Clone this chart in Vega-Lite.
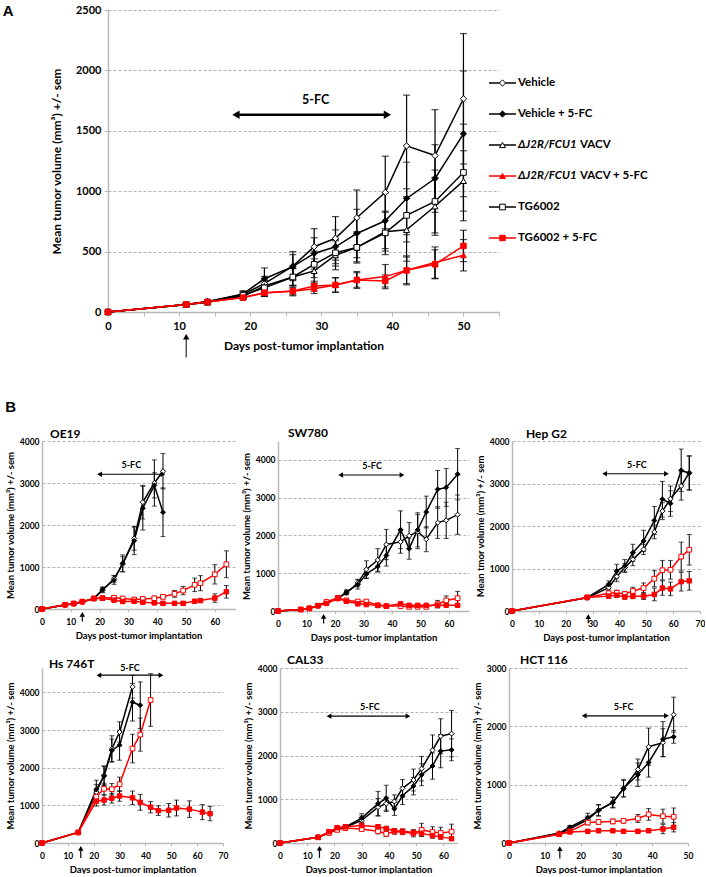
{
"$schema": "https://vega.github.io/schema/vega-lite/v6.json",
"padding": {"left": 2, "top": 3, "right": 0, "bottom": 0},
"background": "white",
"config": {
 "font": "Lato",
 "numberFormat": "d",
 "view": {"stroke": null},
 "axis": {"labelFontWeight": "bold", "titleFontWeight": "bold", "labelColor": "black", "titleColor": "black", "domainColor": "#b8b8b8", "domainWidth": 1.5, "tickColor": "#b8b8b8", "gridColor": "#a0a0a0", "gridDash": [3, 2], "gridWidth": 0.8, "labelFontSize": 8.5, "titleFontSize": 9.5, "labelFlush": false, "labelOverlap": false},
 "axisX": {"grid": false, "tickSize": 3, "labelPadding": 5, "titlePadding": 5, "labelOverlap": false},
 "axisY": {"grid": true, "ticks": false, "labelPadding": 3, "titlePadding": 4},
 "title": {"fontWeight": "bold", "color": "black"}
},
"resolve": {"scale": {"color": "independent", "fill": "independent", "stroke": "independent", "shape": "independent", "size": "independent"}},
"datasets": {
 "a": [
  {"g":"V","d":0,"m":0,"s":0},{"g":"V","d":11,"m":62,"s":8},{"g":"V","d":14,"m":88,"s":15},{"g":"V","d":19,"m":145,"s":25},{"g":"V","d":22,"m":235,"s":60},{"g":"V","d":26,"m":380,"s":120},{"g":"V","d":29,"m":540,"s":150},{"g":"V","d":32,"m":610,"s":180},{"g":"V","d":35,"m":780,"s":230},{"g":"V","d":39,"m":990,"s":300},{"g":"V","d":42,"m":1375,"s":420},{"g":"V","d":46,"m":1295,"s":380},{"g":"V","d":50,"m":1765,"s":540},
  {"g":"VF","d":0,"m":0,"s":0},{"g":"VF","d":11,"m":62,"s":8},{"g":"VF","d":14,"m":85,"s":15},{"g":"VF","d":19,"m":150,"s":25},{"g":"VF","d":22,"m":275,"s":90},{"g":"VF","d":26,"m":375,"s":100},{"g":"VF","d":29,"m":485,"s":130},{"g":"VF","d":32,"m":540,"s":140},{"g":"VF","d":35,"m":650,"s":200},{"g":"VF","d":39,"m":755,"s":230},{"g":"VF","d":42,"m":940,"s":300},{"g":"VF","d":46,"m":1105,"s":280},{"g":"VF","d":50,"m":1475,"s":520},
  {"g":"J","d":0,"m":0,"s":0},{"g":"J","d":11,"m":60,"s":8},{"g":"J","d":14,"m":80,"s":12},{"g":"J","d":19,"m":130,"s":20},{"g":"J","d":22,"m":215,"s":50},{"g":"J","d":26,"m":290,"s":70},{"g":"J","d":29,"m":340,"s":100},{"g":"J","d":32,"m":470,"s":120},{"g":"J","d":35,"m":535,"s":130},{"g":"J","d":39,"m":665,"s":160},{"g":"J","d":42,"m":680,"s":260},{"g":"J","d":46,"m":875,"s":240},{"g":"J","d":50,"m":1085,"s":250},
  {"g":"T","d":0,"m":0,"s":0},{"g":"T","d":11,"m":62,"s":8},{"g":"T","d":14,"m":82,"s":12},{"g":"T","d":19,"m":140,"s":20},{"g":"T","d":22,"m":200,"s":60},{"g":"T","d":26,"m":290,"s":70},{"g":"T","d":29,"m":395,"s":110},{"g":"T","d":32,"m":490,"s":110},{"g":"T","d":35,"m":535,"s":120},{"g":"T","d":39,"m":655,"s":180},{"g":"T","d":42,"m":800,"s":220},{"g":"T","d":46,"m":915,"s":260},{"g":"T","d":50,"m":1155,"s":400},
  {"g":"JF","d":0,"m":0,"s":0},{"g":"JF","d":11,"m":63,"s":8},{"g":"JF","d":14,"m":85,"s":12},{"g":"JF","d":19,"m":120,"s":15},{"g":"JF","d":22,"m":158,"s":30},{"g":"JF","d":26,"m":172,"s":30},{"g":"JF","d":29,"m":193,"s":40},{"g":"JF","d":32,"m":224,"s":60},{"g":"JF","d":35,"m":265,"s":70},{"g":"JF","d":39,"m":293,"s":100},{"g":"JF","d":42,"m":345,"s":120},{"g":"JF","d":46,"m":409,"s":130},{"g":"JF","d":50,"m":470,"s":130},
  {"g":"TF","d":0,"m":0,"s":0},{"g":"TF","d":11,"m":63,"s":8},{"g":"TF","d":14,"m":83,"s":12},{"g":"TF","d":19,"m":119,"s":15},{"g":"TF","d":22,"m":160,"s":30},{"g":"TF","d":26,"m":174,"s":40},{"g":"TF","d":29,"m":215,"s":40},{"g":"TF","d":32,"m":224,"s":60},{"g":"TF","d":35,"m":265,"s":60},{"g":"TF","d":39,"m":257,"s":50},{"g":"TF","d":42,"m":345,"s":110},{"g":"TF","d":46,"m":395,"s":120},{"g":"TF","d":50,"m":547,"s":130}
 ],
 "b": [
  {"p":"OE19","g":"V","d":0,"m":0,"s":0},{"p":"OE19","g":"V","d":8,"m":95,"s":10},{"p":"OE19","g":"V","d":11,"m":125,"s":15},{"p":"OE19","g":"V","d":14,"m":170,"s":20},{"p":"OE19","g":"V","d":18,"m":250,"s":30},{"p":"OE19","g":"V","d":21,"m":448,"s":60},{"p":"OE19","g":"V","d":25,"m":720,"s":80},{"p":"OE19","g":"V","d":28,"m":1064,"s":180},{"p":"OE19","g":"V","d":32,"m":1680,"s":280},{"p":"OE19","g":"V","d":35,"m":2544,"s":400},{"p":"OE19","g":"V","d":39,"m":3000,"s":550},{"p":"OE19","g":"V","d":42,"m":3280,"s":420},
  {"p":"OE19","g":"VF","d":0,"m":0,"s":0},{"p":"OE19","g":"VF","d":8,"m":95,"s":10},{"p":"OE19","g":"VF","d":11,"m":125,"s":15},{"p":"OE19","g":"VF","d":14,"m":170,"s":20},{"p":"OE19","g":"VF","d":18,"m":250,"s":30},{"p":"OE19","g":"VF","d":21,"m":464,"s":60},{"p":"OE19","g":"VF","d":25,"m":688,"s":100},{"p":"OE19","g":"VF","d":28,"m":1088,"s":200},{"p":"OE19","g":"VF","d":32,"m":1624,"s":330},{"p":"OE19","g":"VF","d":35,"m":2400,"s":520},{"p":"OE19","g":"VF","d":39,"m":2944,"s":300},{"p":"OE19","g":"VF","d":42,"m":2304,"s":580},
  {"p":"OE19","g":"T","d":0,"m":0,"s":0},{"p":"OE19","g":"T","d":8,"m":100,"s":10},{"p":"OE19","g":"T","d":11,"m":130,"s":15},{"p":"OE19","g":"T","d":14,"m":175,"s":20},{"p":"OE19","g":"T","d":18,"m":250,"s":30},{"p":"OE19","g":"T","d":21,"m":260,"s":30},{"p":"OE19","g":"T","d":25,"m":265,"s":40},{"p":"OE19","g":"T","d":28,"m":250,"s":40},{"p":"OE19","g":"T","d":32,"m":225,"s":40},{"p":"OE19","g":"T","d":35,"m":240,"s":40},{"p":"OE19","g":"T","d":39,"m":255,"s":50},{"p":"OE19","g":"T","d":42,"m":290,"s":50},{"p":"OE19","g":"T","d":46,"m":360,"s":80},{"p":"OE19","g":"T","d":49,"m":440,"s":100},{"p":"OE19","g":"T","d":53,"m":575,"s":160},{"p":"OE19","g":"T","d":55,"m":615,"s":180},{"p":"OE19","g":"T","d":60,"m":825,"s":230},{"p":"OE19","g":"T","d":64,"m":1065,"s":320},
  {"p":"OE19","g":"TF","d":0,"m":0,"s":0},{"p":"OE19","g":"TF","d":8,"m":100,"s":10},{"p":"OE19","g":"TF","d":11,"m":130,"s":15},{"p":"OE19","g":"TF","d":14,"m":175,"s":20},{"p":"OE19","g":"TF","d":18,"m":250,"s":30},{"p":"OE19","g":"TF","d":21,"m":255,"s":30},{"p":"OE19","g":"TF","d":25,"m":210,"s":30},{"p":"OE19","g":"TF","d":28,"m":180,"s":30},{"p":"OE19","g":"TF","d":32,"m":185,"s":30},{"p":"OE19","g":"TF","d":35,"m":160,"s":30},{"p":"OE19","g":"TF","d":39,"m":145,"s":30},{"p":"OE19","g":"TF","d":42,"m":135,"s":30},{"p":"OE19","g":"TF","d":46,"m":135,"s":30},{"p":"OE19","g":"TF","d":49,"m":135,"s":30},{"p":"OE19","g":"TF","d":53,"m":185,"s":40},{"p":"OE19","g":"TF","d":55,"m":200,"s":40},{"p":"OE19","g":"TF","d":60,"m":260,"s":100},{"p":"OE19","g":"TF","d":64,"m":410,"s":150},

  {"p":"SW780","g":"V","d":0,"m":0,"s":0},{"p":"SW780","g":"V","d":8,"m":40,"s":5},{"p":"SW780","g":"V","d":11,"m":70,"s":10},{"p":"SW780","g":"V","d":14,"m":140,"s":15},{"p":"SW780","g":"V","d":17,"m":230,"s":25},{"p":"SW780","g":"V","d":21,"m":340,"s":40},{"p":"SW780","g":"V","d":24,"m":480,"s":50},{"p":"SW780","g":"V","d":28,"m":740,"s":100},{"p":"SW780","g":"V","d":31,"m":1100,"s":230},{"p":"SW780","g":"V","d":35,"m":1350,"s":300},{"p":"SW780","g":"V","d":38,"m":1760,"s":400},{"p":"SW780","g":"V","d":43,"m":1830,"s":300},{"p":"SW780","g":"V","d":46,"m":1990,"s":350},{"p":"SW780","g":"V","d":49,"m":2100,"s":450},{"p":"SW780","g":"V","d":52,"m":1900,"s":330},{"p":"SW780","g":"V","d":56,"m":2340,"s":420},{"p":"SW780","g":"V","d":59,"m":2400,"s":480},{"p":"SW780","g":"V","d":63,"m":2550,"s":520},
  {"p":"SW780","g":"VF","d":0,"m":0,"s":0},{"p":"SW780","g":"VF","d":8,"m":40,"s":5},{"p":"SW780","g":"VF","d":11,"m":70,"s":10},{"p":"SW780","g":"VF","d":14,"m":140,"s":15},{"p":"SW780","g":"VF","d":17,"m":230,"s":25},{"p":"SW780","g":"VF","d":21,"m":330,"s":40},{"p":"SW780","g":"VF","d":24,"m":500,"s":60},{"p":"SW780","g":"VF","d":28,"m":700,"s":120},{"p":"SW780","g":"VF","d":31,"m":980,"s":120},{"p":"SW780","g":"VF","d":35,"m":1180,"s":150},{"p":"SW780","g":"VF","d":38,"m":1470,"s":280},{"p":"SW780","g":"VF","d":43,"m":2150,"s":500},{"p":"SW780","g":"VF","d":46,"m":1650,"s":280},{"p":"SW780","g":"VF","d":49,"m":2150,"s":450},{"p":"SW780","g":"VF","d":52,"m":2620,"s":420},{"p":"SW780","g":"VF","d":56,"m":3220,"s":500},{"p":"SW780","g":"VF","d":59,"m":3270,"s":500},{"p":"SW780","g":"VF","d":63,"m":3620,"s":680},
  {"p":"SW780","g":"T","d":0,"m":0,"s":0},{"p":"SW780","g":"T","d":8,"m":40,"s":5},{"p":"SW780","g":"T","d":11,"m":70,"s":10},{"p":"SW780","g":"T","d":14,"m":140,"s":15},{"p":"SW780","g":"T","d":17,"m":240,"s":25},{"p":"SW780","g":"T","d":21,"m":350,"s":40},{"p":"SW780","g":"T","d":24,"m":280,"s":40},{"p":"SW780","g":"T","d":28,"m":250,"s":40},{"p":"SW780","g":"T","d":31,"m":250,"s":40},{"p":"SW780","g":"T","d":35,"m":150,"s":30},{"p":"SW780","g":"T","d":38,"m":130,"s":30},{"p":"SW780","g":"T","d":43,"m":130,"s":30},{"p":"SW780","g":"T","d":46,"m":110,"s":30},{"p":"SW780","g":"T","d":49,"m":110,"s":30},{"p":"SW780","g":"T","d":52,"m":110,"s":30},{"p":"SW780","g":"T","d":56,"m":180,"s":100},{"p":"SW780","g":"T","d":59,"m":280,"s":120},{"p":"SW780","g":"T","d":63,"m":340,"s":180},
  {"p":"SW780","g":"TF","d":0,"m":0,"s":0},{"p":"SW780","g":"TF","d":8,"m":40,"s":5},{"p":"SW780","g":"TF","d":11,"m":70,"s":10},{"p":"SW780","g":"TF","d":14,"m":140,"s":15},{"p":"SW780","g":"TF","d":17,"m":200,"s":25},{"p":"SW780","g":"TF","d":21,"m":330,"s":40},{"p":"SW780","g":"TF","d":24,"m":260,"s":40},{"p":"SW780","g":"TF","d":28,"m":190,"s":30},{"p":"SW780","g":"TF","d":31,"m":170,"s":30},{"p":"SW780","g":"TF","d":35,"m":150,"s":30},{"p":"SW780","g":"TF","d":38,"m":130,"s":30},{"p":"SW780","g":"TF","d":43,"m":190,"s":30},{"p":"SW780","g":"TF","d":46,"m":150,"s":30},{"p":"SW780","g":"TF","d":49,"m":150,"s":30},{"p":"SW780","g":"TF","d":52,"m":150,"s":30},{"p":"SW780","g":"TF","d":56,"m":150,"s":30},{"p":"SW780","g":"TF","d":59,"m":150,"s":30},{"p":"SW780","g":"TF","d":63,"m":150,"s":30},

  {"p":"HepG2","g":"V","d":0,"m":0,"s":0},{"p":"HepG2","g":"V","d":28,"m":314,"s":30},{"p":"HepG2","g":"V","d":36,"m":550,"s":60},{"p":"HepG2","g":"V","d":39,"m":810,"s":120},{"p":"HepG2","g":"V","d":42,"m":1020,"s":100},{"p":"HepG2","g":"V","d":45,"m":1215,"s":150},{"p":"HepG2","g":"V","d":49,"m":1450,"s":120},{"p":"HepG2","g":"V","d":53,"m":1860,"s":160},{"p":"HepG2","g":"V","d":56,"m":2350,"s":200},{"p":"HepG2","g":"V","d":59,"m":2640,"s":300},{"p":"HepG2","g":"V","d":63,"m":2940,"s":330},{"p":"HepG2","g":"V","d":66,"m":3255,"s":400},
  {"p":"HepG2","g":"VF","d":0,"m":0,"s":0},{"p":"HepG2","g":"VF","d":28,"m":314,"s":30},{"p":"HepG2","g":"VF","d":36,"m":627,"s":80},{"p":"HepG2","g":"VF","d":39,"m":940,"s":160},{"p":"HepG2","g":"VF","d":42,"m":1060,"s":150},{"p":"HepG2","g":"VF","d":45,"m":1370,"s":200},{"p":"HepG2","g":"VF","d":49,"m":1650,"s":250},{"p":"HepG2","g":"VF","d":53,"m":2130,"s":330},{"p":"HepG2","g":"VF","d":56,"m":2630,"s":420},{"p":"HepG2","g":"VF","d":59,"m":2530,"s":300},{"p":"HepG2","g":"VF","d":63,"m":3310,"s":500},{"p":"HepG2","g":"VF","d":66,"m":3240,"s":400},
  {"p":"HepG2","g":"T","d":0,"m":0,"s":0},{"p":"HepG2","g":"T","d":28,"m":320,"s":30},{"p":"HepG2","g":"T","d":36,"m":420,"s":50},{"p":"HepG2","g":"T","d":39,"m":430,"s":60},{"p":"HepG2","g":"T","d":42,"m":400,"s":60},{"p":"HepG2","g":"T","d":45,"m":470,"s":90},{"p":"HepG2","g":"T","d":49,"m":540,"s":120},{"p":"HepG2","g":"T","d":53,"m":760,"s":190},{"p":"HepG2","g":"T","d":56,"m":960,"s":230},{"p":"HepG2","g":"T","d":59,"m":970,"s":220},{"p":"HepG2","g":"T","d":63,"m":1280,"s":340},{"p":"HepG2","g":"T","d":66,"m":1440,"s":360},
  {"p":"HepG2","g":"TF","d":0,"m":0,"s":0},{"p":"HepG2","g":"TF","d":28,"m":320,"s":30},{"p":"HepG2","g":"TF","d":36,"m":350,"s":40},{"p":"HepG2","g":"TF","d":39,"m":370,"s":50},{"p":"HepG2","g":"TF","d":42,"m":330,"s":50},{"p":"HepG2","g":"TF","d":45,"m":350,"s":60},{"p":"HepG2","g":"TF","d":49,"m":350,"s":80},{"p":"HepG2","g":"TF","d":53,"m":390,"s":150},{"p":"HepG2","g":"TF","d":56,"m":540,"s":170},{"p":"HepG2","g":"TF","d":59,"m":520,"s":160},{"p":"HepG2","g":"TF","d":63,"m":690,"s":220},{"p":"HepG2","g":"TF","d":66,"m":710,"s":220},

  {"p":"Hs746T","g":"V","d":0,"m":0,"s":0},{"p":"Hs746T","g":"V","d":14,"m":280,"s":30},{"p":"Hs746T","g":"V","d":21,"m":1350,"s":200},{"p":"Hs746T","g":"V","d":24,"m":1800,"s":250},{"p":"Hs746T","g":"V","d":27,"m":2500,"s":350},{"p":"Hs746T","g":"V","d":30,"m":2950,"s":270},{"p":"Hs746T","g":"V","d":35,"m":4150,"s":300},
  {"p":"Hs746T","g":"VF","d":0,"m":0,"s":0},{"p":"Hs746T","g":"VF","d":14,"m":280,"s":30},{"p":"Hs746T","g":"VF","d":21,"m":1420,"s":250},{"p":"Hs746T","g":"VF","d":24,"m":1780,"s":250},{"p":"Hs746T","g":"VF","d":27,"m":2460,"s":300},{"p":"Hs746T","g":"VF","d":30,"m":2600,"s":400},{"p":"Hs746T","g":"VF","d":35,"m":3740,"s":500},{"p":"Hs746T","g":"VF","d":38,"m":3660,"s":620},
  {"p":"Hs746T","g":"T","d":0,"m":0,"s":0},{"p":"Hs746T","g":"T","d":14,"m":280,"s":30},{"p":"Hs746T","g":"T","d":21,"m":1230,"s":130},{"p":"Hs746T","g":"T","d":24,"m":1440,"s":150},{"p":"Hs746T","g":"T","d":27,"m":1430,"s":150},{"p":"Hs746T","g":"T","d":30,"m":1560,"s":190},{"p":"Hs746T","g":"T","d":35,"m":2510,"s":380},{"p":"Hs746T","g":"T","d":38,"m":2880,"s":440},{"p":"Hs746T","g":"T","d":42,"m":3800,"s":700},
  {"p":"Hs746T","g":"TF","d":0,"m":0,"s":0},{"p":"Hs746T","g":"TF","d":14,"m":280,"s":30},{"p":"Hs746T","g":"TF","d":21,"m":1110,"s":130},{"p":"Hs746T","g":"TF","d":24,"m":1140,"s":130},{"p":"Hs746T","g":"TF","d":27,"m":1190,"s":130},{"p":"Hs746T","g":"TF","d":30,"m":1250,"s":140},{"p":"Hs746T","g":"TF","d":35,"m":1200,"s":180},{"p":"Hs746T","g":"TF","d":38,"m":1080,"s":210},{"p":"Hs746T","g":"TF","d":42,"m":950,"s":150},{"p":"Hs746T","g":"TF","d":45,"m":860,"s":130},{"p":"Hs746T","g":"TF","d":49,"m":870,"s":180},{"p":"Hs746T","g":"TF","d":52,"m":930,"s":210},{"p":"Hs746T","g":"TF","d":57,"m":900,"s":220},{"p":"Hs746T","g":"TF","d":62,"m":820,"s":200},{"p":"Hs746T","g":"TF","d":65,"m":780,"s":190},

  {"p":"CAL33","g":"V","d":0,"m":0,"s":0},{"p":"CAL33","g":"V","d":14,"m":130,"s":20},{"p":"CAL33","g":"V","d":18,"m":230,"s":30},{"p":"CAL33","g":"V","d":21,"m":320,"s":40},{"p":"CAL33","g":"V","d":24,"m":360,"s":40},{"p":"CAL33","g":"V","d":30,"m":520,"s":100},{"p":"CAL33","g":"V","d":36,"m":820,"s":200},{"p":"CAL33","g":"V","d":39,"m":900,"s":150},{"p":"CAL33","g":"V","d":42,"m":950,"s":150},{"p":"CAL33","g":"V","d":45,"m":1250,"s":200},{"p":"CAL33","g":"V","d":49,"m":1440,"s":250},{"p":"CAL33","g":"V","d":52,"m":1700,"s":280},{"p":"CAL33","g":"V","d":56,"m":2120,"s":350},{"p":"CAL33","g":"V","d":59,"m":2440,"s":400},{"p":"CAL33","g":"V","d":63,"m":2500,"s":530},
  {"p":"CAL33","g":"VF","d":0,"m":0,"s":0},{"p":"CAL33","g":"VF","d":14,"m":130,"s":20},{"p":"CAL33","g":"VF","d":18,"m":250,"s":30},{"p":"CAL33","g":"VF","d":21,"m":340,"s":40},{"p":"CAL33","g":"VF","d":24,"m":370,"s":40},{"p":"CAL33","g":"VF","d":30,"m":570,"s":100},{"p":"CAL33","g":"VF","d":36,"m":900,"s":280},{"p":"CAL33","g":"VF","d":39,"m":1020,"s":300},{"p":"CAL33","g":"VF","d":42,"m":780,"s":150},{"p":"CAL33","g":"VF","d":45,"m":1080,"s":200},{"p":"CAL33","g":"VF","d":49,"m":1300,"s":200},{"p":"CAL33","g":"VF","d":52,"m":1560,"s":250},{"p":"CAL33","g":"VF","d":56,"m":1760,"s":300},{"p":"CAL33","g":"VF","d":59,"m":2100,"s":380},{"p":"CAL33","g":"VF","d":63,"m":2130,"s":250},
  {"p":"CAL33","g":"T","d":0,"m":0,"s":0},{"p":"CAL33","g":"T","d":14,"m":130,"s":20},{"p":"CAL33","g":"T","d":18,"m":230,"s":30},{"p":"CAL33","g":"T","d":21,"m":300,"s":40},{"p":"CAL33","g":"T","d":24,"m":340,"s":40},{"p":"CAL33","g":"T","d":30,"m":320,"s":50},{"p":"CAL33","g":"T","d":36,"m":270,"s":60},{"p":"CAL33","g":"T","d":39,"m":210,"s":60},{"p":"CAL33","g":"T","d":42,"m":260,"s":60},{"p":"CAL33","g":"T","d":45,"m":250,"s":60},{"p":"CAL33","g":"T","d":49,"m":220,"s":80},{"p":"CAL33","g":"T","d":52,"m":300,"s":150},{"p":"CAL33","g":"T","d":56,"m":250,"s":120},{"p":"CAL33","g":"T","d":59,"m":230,"s":130},{"p":"CAL33","g":"T","d":63,"m":260,"s":170},
  {"p":"CAL33","g":"TF","d":0,"m":0,"s":0},{"p":"CAL33","g":"TF","d":14,"m":130,"s":20},{"p":"CAL33","g":"TF","d":18,"m":260,"s":30},{"p":"CAL33","g":"TF","d":21,"m":350,"s":40},{"p":"CAL33","g":"TF","d":24,"m":370,"s":40},{"p":"CAL33","g":"TF","d":30,"m":400,"s":50},{"p":"CAL33","g":"TF","d":36,"m":370,"s":50},{"p":"CAL33","g":"TF","d":39,"m":330,"s":50},{"p":"CAL33","g":"TF","d":42,"m":280,"s":50},{"p":"CAL33","g":"TF","d":45,"m":270,"s":50},{"p":"CAL33","g":"TF","d":49,"m":240,"s":60},{"p":"CAL33","g":"TF","d":52,"m":220,"s":60},{"p":"CAL33","g":"TF","d":56,"m":170,"s":60},{"p":"CAL33","g":"TF","d":59,"m":140,"s":50},{"p":"CAL33","g":"TF","d":63,"m":100,"s":40},

  {"p":"HCT116","g":"V","d":0,"m":0,"s":0},{"p":"HCT116","g":"V","d":14,"m":160,"s":20},{"p":"HCT116","g":"V","d":17,"m":245,"s":30},{"p":"HCT116","g":"V","d":22,"m":400,"s":60},{"p":"HCT116","g":"V","d":25,"m":560,"s":90},{"p":"HCT116","g":"V","d":29,"m":700,"s":90},{"p":"HCT116","g":"V","d":32,"m":930,"s":140},{"p":"HCT116","g":"V","d":36,"m":1260,"s":180},{"p":"HCT116","g":"V","d":39,"m":1650,"s":320},{"p":"HCT116","g":"V","d":43,"m":1720,"s":240},{"p":"HCT116","g":"V","d":46,"m":2200,"s":300},
  {"p":"HCT116","g":"VF","d":0,"m":0,"s":0},{"p":"HCT116","g":"VF","d":14,"m":170,"s":20},{"p":"HCT116","g":"VF","d":17,"m":270,"s":30},{"p":"HCT116","g":"VF","d":22,"m":430,"s":80},{"p":"HCT116","g":"VF","d":25,"m":560,"s":100},{"p":"HCT116","g":"VF","d":29,"m":690,"s":90},{"p":"HCT116","g":"VF","d":32,"m":940,"s":150},{"p":"HCT116","g":"VF","d":36,"m":1170,"s":200},{"p":"HCT116","g":"VF","d":39,"m":1380,"s":250},{"p":"HCT116","g":"VF","d":43,"m":1780,"s":300},{"p":"HCT116","g":"VF","d":46,"m":1820,"s":110},
  {"p":"HCT116","g":"T","d":0,"m":0,"s":0},{"p":"HCT116","g":"T","d":14,"m":150,"s":20},{"p":"HCT116","g":"T","d":17,"m":200,"s":20},{"p":"HCT116","g":"T","d":22,"m":350,"s":40},{"p":"HCT116","g":"T","d":25,"m":360,"s":40},{"p":"HCT116","g":"T","d":29,"m":370,"s":40},{"p":"HCT116","g":"T","d":32,"m":380,"s":40},{"p":"HCT116","g":"T","d":36,"m":420,"s":70},{"p":"HCT116","g":"T","d":39,"m":490,"s":100},{"p":"HCT116","g":"T","d":43,"m":460,"s":120},{"p":"HCT116","g":"T","d":46,"m":450,"s":150},
  {"p":"HCT116","g":"TF","d":0,"m":0,"s":0},{"p":"HCT116","g":"TF","d":14,"m":150,"s":20},{"p":"HCT116","g":"TF","d":17,"m":190,"s":20},{"p":"HCT116","g":"TF","d":22,"m":200,"s":20},{"p":"HCT116","g":"TF","d":25,"m":210,"s":20},{"p":"HCT116","g":"TF","d":29,"m":210,"s":20},{"p":"HCT116","g":"TF","d":32,"m":200,"s":20},{"p":"HCT116","g":"TF","d":36,"m":200,"s":20},{"p":"HCT116","g":"TF","d":39,"m":210,"s":30},{"p":"HCT116","g":"TF","d":43,"m":240,"s":80},{"p":"HCT116","g":"TF","d":46,"m":270,"s":80}
 ]
},
"vconcat": [
 {"concat": [
  {"width": 20, "height": 1, "data": {"values": [{"v": 0}]},
   "mark": {"type": "bar", "opacity": 0},
   "encoding": {"y": {"field": "v", "type": "quantitative", "axis": {"title": "A", "titleAngle": 0, "titleFontSize": 15, "titleFont": "Liberation Sans", "titleAlign": "right", "titleBaseline": "middle", "titleAnchor": "end", "titlePadding": 29, "labels": false, "ticks": false, "domain": false, "grid": false}}}},
  {"width": 391, "height": 302,
   "encoding": {
    "x": {"field": "d", "type": "quantitative", "scale": {"domain": [0, 55], "nice": false}, "axis": {"values": [0,5,10,15,20,25,30,35,40,45,50,55], "labelExpr": "datum.value % 10 == 0 ? datum.label : ''", "labelOverlap": false, "labelFontSize": 11, "titleFontSize": 12, "tickSize": 4, "labelPadding": 4, "titlePadding": 9, "title": "Days post-tumor implantation"}}},
   "layer": [
    {"data": {"name": "a"},
     "encoding": {"y": {"field": "m", "type": "quantitative", "scale": {"domain": [0, 2500], "nice": false}, "axis": {"values": [0,500,1000,1500,2000,2500], "labelFontSize": 11, "titleFontSize": 12, "ticks": true, "tickSize": 4, "labelPadding": 3, "titlePadding": 12, "title": "Mean tumor volume (mm³) +/- sem"}}},
     "layer": [
      {"transform": [{"filter": "datum.s > 0"}], "mark": {"type": "errorbar", "color": "black", "thickness": 1.2, "ticks": {"size": 7}}, "encoding": {"yError": {"field": "s"}, "detail": {"field": "g"}}},
      {"mark": {"type": "line", "strokeWidth": 1.5}, "encoding": {"color": {"field": "g", "type": "nominal", "scale": {"domain": ["V","VF","J","JF","T","TF"], "range": ["black","black","black","red","black","red"]}, "legend": null}}},
      {"mark": {"type": "point", "filled": true, "opacity": 1, "strokeWidth": 1}, "encoding": {
        "shape": {"field": "g", "type": "nominal", "scale": {"domain": ["V","VF","J","JF","T","TF"], "range": ["diamond","diamond","triangle-up","triangle-up","square","square"]}, "legend": null},
        "fill": {"field": "g", "type": "nominal", "scale": {"domain": ["V","VF","J","JF","T","TF"], "range": ["white","black","white","red","white","red"]}, "legend": null},
        "stroke": {"field": "g", "type": "nominal", "scale": {"domain": ["V","VF","J","JF","T","TF"], "range": ["black","black","black","red","black","red"]}, "legend": null},
        "size": {"field": "g", "type": "nominal", "scale": {"domain": ["V","VF","J","JF","T","TF"], "range": [40,30,45,45,50,55]}, "legend": null}}}
     ]},
    {"data": {"values": [{"d": 18, "d2": 39.3}]}, "mark": {"type": "rule", "color": "black", "strokeWidth": 2.5}, "encoding": {"x2": {"field": "d2"}, "y": {"datum": 1633}}},
    {"data": {"values": [{"d": 18}]}, "mark": {"type": "point", "shape": "triangle-left", "filled": true, "color": "black", "opacity": 1, "size": 70}, "encoding": {"y": {"datum": 1633}}},
    {"data": {"values": [{"d": 39.3}]}, "mark": {"type": "point", "shape": "triangle-right", "filled": true, "color": "black", "opacity": 1, "size": 70}, "encoding": {"y": {"datum": 1633}}},
    {"data": {"values": [{"lab": "5-FC", "d": 29.2}]}, "mark": {"type": "text", "fontSize": 12.5, "fontWeight": "bold"}, "encoding": {"y": {"datum": 1754}, "text": {"field": "lab"}}},
    {"data": {"values": [{"d": 11}]}, "mark": {"type": "rule", "color": "black", "strokeWidth": 1}, "encoding": {"y": {"datum": -190}, "y2": {"datum": -375}}},
    {"data": {"values": [{"d": 11}]}, "mark": {"type": "point", "shape": "triangle-up", "filled": true, "color": "black", "opacity": 1, "size": 40}, "encoding": {"y": {"datum": -205}}}
   ]},
  {"width": 212, "height": 302,
   "data": {"values": [
     {"o": 1, "g": "V", "t": "Vehicle", "i": ""},
     {"o": 2, "g": "VF", "t": "Vehicle + 5-FC", "i": ""},
     {"o": 3, "g": "J", "t": "VACV", "i": "ΔJ2R/FCU1"},
     {"o": 4, "g": "JF", "t": "VACV + 5-FC", "i": "ΔJ2R/FCU1"},
     {"o": 5, "g": "T", "t": "TG6002", "i": ""},
     {"o": 6, "g": "TF", "t": "TG6002 + 5-FC", "i": ""}]},
   "encoding": {"y": {"field": "o", "type": "quantitative", "scale": {"domain": [-1.355, 8.387], "reverse": true, "nice": false, "zero": false}, "axis": null}},
   "layer": [
    {"mark": {"type": "rule", "strokeWidth": 1.5}, "encoding": {"x": {"datum": 0, "scale": {"domain": [0, 212], "nice": false}, "axis": null}, "x2": {"datum": 27}, "color": {"field": "g", "type": "nominal", "scale": {"domain": ["V","VF","J","JF","T","TF"], "range": ["black","black","black","red","black","red"]}, "legend": null}}},
    {"mark": {"type": "point", "filled": true, "opacity": 1, "strokeWidth": 1}, "encoding": {"x": {"datum": 13.5},
      "shape": {"field": "g", "type": "nominal", "scale": {"domain": ["V","VF","J","JF","T","TF"], "range": ["diamond","diamond","triangle-up","triangle-up","square","square"]}, "legend": null},
      "fill": {"field": "g", "type": "nominal", "scale": {"domain": ["V","VF","J","JF","T","TF"], "range": ["white","black","white","red","white","red"]}, "legend": null},
      "stroke": {"field": "g", "type": "nominal", "scale": {"domain": ["V","VF","J","JF","T","TF"], "range": ["black","black","black","red","black","red"]}, "legend": null},
      "size": {"field": "g", "type": "nominal", "scale": {"domain": ["V","VF","J","JF","T","TF"], "range": [40,30,45,45,50,55]}, "legend": null}}},
    {"transform": [{"filter": "datum.i == ''"}], "mark": {"type": "text", "align": "left", "baseline": "middle", "fontSize": 11.5, "fontWeight": "bold"}, "encoding": {"x": {"datum": 29}, "text": {"field": "t"}}},
    {"transform": [{"filter": "datum.i != ''"}], "mark": {"type": "text", "align": "left", "baseline": "middle", "fontSize": 11.5, "fontWeight": "bold", "fontStyle": "italic"}, "encoding": {"x": {"datum": 29}, "text": {"field": "i"}}},
    {"transform": [{"filter": "datum.i != ''"}], "mark": {"type": "text", "align": "left", "baseline": "middle", "fontSize": 11.5, "fontWeight": "bold", "dx": 62}, "encoding": {"x": {"datum": 29}, "text": {"field": "t"}}}
   ]}
 ], "columns": 3, "align": "none", "spacing": -12},
 {"title": {"text": "B", "anchor": "start", "fontSize": 15, "font": "Liberation Sans", "offset": 12, "frame": "bounds"},
  "vconcat": [
   {"hconcat": [
    {"width": 193, "height": 168,
     "title": {"text": "OE19", "anchor": "start", "frame": "group", "fontSize": 12, "dx": 8, "offset": -3.5},
     "encoding": {"x": {"field": "d", "type": "quantitative", "scale": {"domain": [0, 67], "nice": false}, "axis": {"values": [0,10,20,30,40,50,60], "labelOverlap": false, "title": "Days post-tumor implantation"}}},
     "layer": [
      {"data": {"name": "b"}, "transform": [{"filter": "datum.p == 'OE19'"}],
       "encoding": {"y": {"field": "m", "type": "quantitative", "scale": {"domain": [0, 4000], "nice": false}, "axis": {"values": [0,1000,2000,3000,4000], "title": "Mean tumor volume (mm³) +/- sem"}}},
       "layer": [
        {"transform": [{"filter": "datum.s > 0"}], "mark": {"type": "errorbar", "color": "black", "thickness": 1, "ticks": {"size": 5}}, "encoding": {"yError": {"field": "s"}, "detail": {"field": "g"}}},
        {"mark": {"type": "line", "strokeWidth": 1.5}, "encoding": {"color": {"field": "g", "type": "nominal", "scale": {"domain": ["V","VF","T","TF"], "range": ["black","black","red","red"]}, "legend": null}}},
        {"mark": {"type": "point", "filled": true, "opacity": 1, "strokeWidth": 1}, "encoding": {
          "shape": {"field": "g", "type": "nominal", "scale": {"domain": ["V","VF","T","TF"], "range": ["diamond","diamond","square","square"]}, "legend": null},
          "fill": {"field": "g", "type": "nominal", "scale": {"domain": ["V","VF","T","TF"], "range": ["white","black","white","red"]}, "legend": null},
          "stroke": {"field": "g", "type": "nominal", "scale": {"domain": ["V","VF","T","TF"], "range": ["black","black","red","red"]}, "legend": null},
          "size": {"field": "g", "type": "nominal", "scale": {"domain": ["V","VF","T","TF"], "range": [26,20,28,28]}, "legend": null}}}
       ]},
      {"data": {"values": [{"d": 20, "d2": 42}]}, "mark": {"type": "rule", "color": "black", "strokeWidth": 1.2}, "encoding": {"x2": {"field": "d2"}, "y": {"datum": 3208}}},
      {"data": {"values": [{"d": 20}]}, "mark": {"type": "point", "shape": "triangle-left", "filled": true, "color": "black", "opacity": 1, "size": 30}, "encoding": {"y": {"datum": 3208}}},
      {"data": {"values": [{"d": 42}]}, "mark": {"type": "point", "shape": "triangle-right", "filled": true, "color": "black", "opacity": 1, "size": 30}, "encoding": {"y": {"datum": 3208}}},
      {"data": {"values": [{"lab": "5-FC", "d": 31}]}, "mark": {"type": "text", "fontSize": 9, "fontWeight": "bold"}, "encoding": {"y": {"datum": 3420}, "text": {"field": "lab"}}},
      {"data": {"values": [{"d": 14}]}, "mark": {"type": "rule", "color": "black", "strokeWidth": 1.2}, "encoding": {"y": {"datum": -120}, "y2": {"datum": -300}}},
      {"data": {"values": [{"d": 14}]}, "mark": {"type": "point", "shape": "triangle-up", "filled": true, "color": "black", "opacity": 1, "size": 30}, "encoding": {"y": {"datum": -130}}}
     ]},
    {"width": 191, "height": 170,
     "title": {"text": "SW780", "anchor": "start", "frame": "group", "fontSize": 12, "dx": 10, "offset": 1},
     "encoding": {"x": {"field": "d", "type": "quantitative", "scale": {"domain": [0, 67], "nice": false}, "axis": {"values": [0,10,20,30,40,50,60], "labelOverlap": false, "title": "Days post-tumor implantation"}}},
     "layer": [
      {"data": {"name": "b"}, "transform": [{"filter": "datum.p == 'SW780'"}],
       "encoding": {"y": {"field": "m", "type": "quantitative", "scale": {"domain": [0, 4500], "nice": false}, "axis": {"values": [0,1000,2000,3000,4000], "title": "Mean tumor volume  (mm³) +/- sem"}}},
       "layer": [
        {"transform": [{"filter": "datum.s > 0"}], "mark": {"type": "errorbar", "color": "black", "thickness": 1, "ticks": {"size": 5}}, "encoding": {"yError": {"field": "s"}, "detail": {"field": "g"}}},
        {"mark": {"type": "line", "strokeWidth": 1.5}, "encoding": {"color": {"field": "g", "type": "nominal", "scale": {"domain": ["V","VF","T","TF"], "range": ["black","black","red","red"]}, "legend": null}}},
        {"mark": {"type": "point", "filled": true, "opacity": 1, "strokeWidth": 1}, "encoding": {
          "shape": {"field": "g", "type": "nominal", "scale": {"domain": ["V","VF","T","TF"], "range": ["diamond","diamond","square","square"]}, "legend": null},
          "fill": {"field": "g", "type": "nominal", "scale": {"domain": ["V","VF","T","TF"], "range": ["white","black","white","red"]}, "legend": null},
          "stroke": {"field": "g", "type": "nominal", "scale": {"domain": ["V","VF","T","TF"], "range": ["black","black","red","red"]}, "legend": null},
          "size": {"field": "g", "type": "nominal", "scale": {"domain": ["V","VF","T","TF"], "range": [26,20,28,28]}, "legend": null}}}
       ]},
      {"data": {"values": [{"d": 22, "d2": 43.5}]}, "mark": {"type": "rule", "color": "black", "strokeWidth": 1.2}, "encoding": {"x2": {"field": "d2"}, "y": {"datum": 3600}}},
      {"data": {"values": [{"d": 22}]}, "mark": {"type": "point", "shape": "triangle-left", "filled": true, "color": "black", "opacity": 1, "size": 30}, "encoding": {"y": {"datum": 3600}}},
      {"data": {"values": [{"d": 43.5}]}, "mark": {"type": "point", "shape": "triangle-right", "filled": true, "color": "black", "opacity": 1, "size": 30}, "encoding": {"y": {"datum": 3600}}},
      {"data": {"values": [{"lab": "5-FC", "d": 33}]}, "mark": {"type": "text", "fontSize": 9, "fontWeight": "bold"}, "encoding": {"y": {"datum": 3830}, "text": {"field": "lab"}}},
      {"data": {"values": [{"d": 16}]}, "mark": {"type": "rule", "color": "black", "strokeWidth": 1.2}, "encoding": {"y": {"datum": -130}, "y2": {"datum": -330}}},
      {"data": {"values": [{"d": 16}]}, "mark": {"type": "point", "shape": "triangle-up", "filled": true, "color": "black", "opacity": 1, "size": 30}, "encoding": {"y": {"datum": -140}}}
     ]},
    {"width": 188, "height": 170,
     "title": {"text": "Hep G2", "anchor": "start", "frame": "group", "fontSize": 12, "dx": 14, "offset": -4},
     "encoding": {"x": {"field": "d", "type": "quantitative", "scale": {"domain": [0, 70], "nice": false}, "axis": {"values": [0,10,20,30,40,50,60,70], "labelOverlap": false, "title": "Days post-tumor implantation"}}},
     "layer": [
      {"data": {"name": "b"}, "transform": [{"filter": "datum.p == 'HepG2'"}],
       "encoding": {"y": {"field": "m", "type": "quantitative", "scale": {"domain": [0, 4000], "nice": false}, "axis": {"values": [0,1000,2000,3000,4000], "title": "Mean tmor volume (mm³) +/- sem"}}},
       "layer": [
        {"transform": [{"filter": "datum.s > 0"}], "mark": {"type": "errorbar", "color": "black", "thickness": 1, "ticks": {"size": 5}}, "encoding": {"yError": {"field": "s"}, "detail": {"field": "g"}}},
        {"mark": {"type": "line", "strokeWidth": 1.5}, "encoding": {"color": {"field": "g", "type": "nominal", "scale": {"domain": ["V","VF","T","TF"], "range": ["black","black","red","red"]}, "legend": null}}},
        {"mark": {"type": "point", "filled": true, "opacity": 1, "strokeWidth": 1}, "encoding": {
          "shape": {"field": "g", "type": "nominal", "scale": {"domain": ["V","VF","T","TF"], "range": ["diamond","diamond","square","square"]}, "legend": null},
          "fill": {"field": "g", "type": "nominal", "scale": {"domain": ["V","VF","T","TF"], "range": ["white","black","white","red"]}, "legend": null},
          "stroke": {"field": "g", "type": "nominal", "scale": {"domain": ["V","VF","T","TF"], "range": ["black","black","red","red"]}, "legend": null},
          "size": {"field": "g", "type": "nominal", "scale": {"domain": ["V","VF","T","TF"], "range": [26,20,28,28]}, "legend": null}}}
       ]},
      {"data": {"values": [{"d": 34.5, "d2": 57.5}]}, "mark": {"type": "rule", "color": "black", "strokeWidth": 1.2}, "encoding": {"x2": {"field": "d2"}, "y": {"datum": 3230}}},
      {"data": {"values": [{"d": 34.5}]}, "mark": {"type": "point", "shape": "triangle-left", "filled": true, "color": "black", "opacity": 1, "size": 30}, "encoding": {"y": {"datum": 3230}}},
      {"data": {"values": [{"d": 57.5}]}, "mark": {"type": "point", "shape": "triangle-right", "filled": true, "color": "black", "opacity": 1, "size": 30}, "encoding": {"y": {"datum": 3230}}},
      {"data": {"values": [{"lab": "5-FC", "d": 46.5}]}, "mark": {"type": "text", "fontSize": 9, "fontWeight": "bold"}, "encoding": {"y": {"datum": 3440}, "text": {"field": "lab"}}},
      {"data": {"values": [{"d": 28.4}]}, "mark": {"type": "rule", "color": "black", "strokeWidth": 1.2}, "encoding": {"y": {"datum": -120}, "y2": {"datum": -290}}},
      {"data": {"values": [{"d": 28.4}]}, "mark": {"type": "point", "shape": "triangle-up", "filled": true, "color": "black", "opacity": 1, "size": 30}, "encoding": {"y": {"datum": -130}}}
     ]}
   ], "spacing": 6},
   {"hconcat": [
    {"width": 181, "height": 175,
     "title": {"text": "Hs 746T", "anchor": "start", "frame": "group", "fontSize": 12, "dx": 7, "offset": -7.5},
     "encoding": {"x": {"field": "d", "type": "quantitative", "scale": {"domain": [0, 70], "nice": false}, "axis": {"values": [0,10,20,30,40,50,60,70], "labelOverlap": false, "title": "Days post-tumor implantation"}}},
     "layer": [
      {"data": {"name": "b"}, "transform": [{"filter": "datum.p == 'Hs746T'"}],
       "encoding": {"y": {"field": "m", "type": "quantitative", "scale": {"domain": [0, 4650], "nice": false}, "axis": {"values": [0,1000,2000,3000,4000], "title": "Mean tumor volume (mm³) +/- sem"}}},
       "layer": [
        {"transform": [{"filter": "datum.s > 0"}], "mark": {"type": "errorbar", "color": "black", "thickness": 1, "ticks": {"size": 5}}, "encoding": {"yError": {"field": "s"}, "detail": {"field": "g"}}},
        {"mark": {"type": "line", "strokeWidth": 1.5}, "encoding": {"color": {"field": "g", "type": "nominal", "scale": {"domain": ["V","VF","T","TF"], "range": ["black","black","red","red"]}, "legend": null}}},
        {"mark": {"type": "point", "filled": true, "opacity": 1, "strokeWidth": 1}, "encoding": {
          "shape": {"field": "g", "type": "nominal", "scale": {"domain": ["V","VF","T","TF"], "range": ["diamond","diamond","square","square"]}, "legend": null},
          "fill": {"field": "g", "type": "nominal", "scale": {"domain": ["V","VF","T","TF"], "range": ["white","black","white","red"]}, "legend": null},
          "stroke": {"field": "g", "type": "nominal", "scale": {"domain": ["V","VF","T","TF"], "range": ["black","black","red","red"]}, "legend": null},
          "size": {"field": "g", "type": "nominal", "scale": {"domain": ["V","VF","T","TF"], "range": [26,20,28,28]}, "legend": null}}}
       ]},
      {"data": {"values": [{"d": 22, "d2": 46}]}, "mark": {"type": "rule", "color": "black", "strokeWidth": 1.2}, "encoding": {"x2": {"field": "d2"}, "y": {"datum": 4460}}},
      {"data": {"values": [{"d": 22}]}, "mark": {"type": "point", "shape": "triangle-left", "filled": true, "color": "black", "opacity": 1, "size": 30}, "encoding": {"y": {"datum": 4460}}},
      {"data": {"values": [{"d": 46}]}, "mark": {"type": "point", "shape": "triangle-right", "filled": true, "color": "black", "opacity": 1, "size": 30}, "encoding": {"y": {"datum": 4460}}},
      {"data": {"values": [{"lab": "5-FC", "d": 34}]}, "mark": {"type": "text", "fontSize": 9, "fontWeight": "bold"}, "encoding": {"y": {"datum": 4660}, "text": {"field": "lab"}}},
      {"data": {"values": [{"d": 15}]}, "mark": {"type": "rule", "color": "black", "strokeWidth": 1.2}, "encoding": {"y": {"datum": -130}, "y2": {"datum": -400}}},
      {"data": {"values": [{"d": 15}]}, "mark": {"type": "point", "shape": "triangle-up", "filled": true, "color": "black", "opacity": 1, "size": 30}, "encoding": {"y": {"datum": -140}}}
     ]},
    {"width": 177, "height": 175,
     "title": {"text": "CAL33", "anchor": "start", "frame": "group", "fontSize": 12, "dx": 7, "offset": -3},
     "encoding": {"x": {"field": "d", "type": "quantitative", "scale": {"domain": [0, 65], "nice": false}, "axis": {"values": [0,10,20,30,40,50,60], "labelOverlap": false, "title": "Days post-tumor implantation"}}},
     "layer": [
      {"data": {"name": "b"}, "transform": [{"filter": "datum.p == 'CAL33'"}],
       "encoding": {"y": {"field": "m", "type": "quantitative", "scale": {"domain": [0, 4000], "nice": false}, "axis": {"values": [0,1000,2000,3000,4000], "title": "Mean tumor volume  (mm³) +/- sem"}}},
       "layer": [
        {"transform": [{"filter": "datum.s > 0"}], "mark": {"type": "errorbar", "color": "black", "thickness": 1, "ticks": {"size": 5}}, "encoding": {"yError": {"field": "s"}, "detail": {"field": "g"}}},
        {"mark": {"type": "line", "strokeWidth": 1.5}, "encoding": {"color": {"field": "g", "type": "nominal", "scale": {"domain": ["V","VF","T","TF"], "range": ["black","black","red","red"]}, "legend": null}}},
        {"mark": {"type": "point", "filled": true, "opacity": 1, "strokeWidth": 1}, "encoding": {
          "shape": {"field": "g", "type": "nominal", "scale": {"domain": ["V","VF","T","TF"], "range": ["diamond","diamond","square","square"]}, "legend": null},
          "fill": {"field": "g", "type": "nominal", "scale": {"domain": ["V","VF","T","TF"], "range": ["white","black","white","red"]}, "legend": null},
          "stroke": {"field": "g", "type": "nominal", "scale": {"domain": ["V","VF","T","TF"], "range": ["black","black","red","red"]}, "legend": null},
          "size": {"field": "g", "type": "nominal", "scale": {"domain": ["V","VF","T","TF"], "range": [26,20,28,28]}, "legend": null}}}
       ]},
      {"data": {"values": [{"d": 18, "d2": 47}]}, "mark": {"type": "rule", "color": "black", "strokeWidth": 1.2}, "encoding": {"x2": {"field": "d2"}, "y": {"datum": 2900}}},
      {"data": {"values": [{"d": 18}]}, "mark": {"type": "point", "shape": "triangle-left", "filled": true, "color": "black", "opacity": 1, "size": 30}, "encoding": {"y": {"datum": 2900}}},
      {"data": {"values": [{"d": 47}]}, "mark": {"type": "point", "shape": "triangle-right", "filled": true, "color": "black", "opacity": 1, "size": 30}, "encoding": {"y": {"datum": 2900}}},
      {"data": {"values": [{"lab": "5-FC", "d": 33}]}, "mark": {"type": "text", "fontSize": 9, "fontWeight": "bold"}, "encoding": {"y": {"datum": 3120}, "text": {"field": "lab"}}},
      {"data": {"values": [{"d": 14.5}]}, "mark": {"type": "rule", "color": "black", "strokeWidth": 1.2}, "encoding": {"y": {"datum": -110}, "y2": {"datum": -340}}},
      {"data": {"values": [{"d": 14.5}]}, "mark": {"type": "point", "shape": "triangle-up", "filled": true, "color": "black", "opacity": 1, "size": 30}, "encoding": {"y": {"datum": -120}}}
     ]},
    {"width": 179, "height": 175,
     "title": {"text": "HCT 116", "anchor": "start", "frame": "group", "fontSize": 12, "dx": 11, "offset": -3},
     "encoding": {"x": {"field": "d", "type": "quantitative", "scale": {"domain": [0, 50], "nice": false}, "axis": {"values": [0,10,20,30,40,50], "labelOverlap": false, "title": "Days post-tumor implantation"}}},
     "layer": [
      {"data": {"name": "b"}, "transform": [{"filter": "datum.p == 'HCT116'"}],
       "encoding": {"y": {"field": "m", "type": "quantitative", "scale": {"domain": [0, 3000], "nice": false}, "axis": {"values": [0,1000,2000,3000], "title": "Mean tumor volume (mm³) +/- sem"}}},
       "layer": [
        {"transform": [{"filter": "datum.s > 0"}], "mark": {"type": "errorbar", "color": "black", "thickness": 1, "ticks": {"size": 5}}, "encoding": {"yError": {"field": "s"}, "detail": {"field": "g"}}},
        {"mark": {"type": "line", "strokeWidth": 1.5}, "encoding": {"color": {"field": "g", "type": "nominal", "scale": {"domain": ["V","VF","T","TF"], "range": ["black","black","red","red"]}, "legend": null}}},
        {"mark": {"type": "point", "filled": true, "opacity": 1, "strokeWidth": 1}, "encoding": {
          "shape": {"field": "g", "type": "nominal", "scale": {"domain": ["V","VF","T","TF"], "range": ["diamond","diamond","square","square"]}, "legend": null},
          "fill": {"field": "g", "type": "nominal", "scale": {"domain": ["V","VF","T","TF"], "range": ["white","black","white","red"]}, "legend": null},
          "stroke": {"field": "g", "type": "nominal", "scale": {"domain": ["V","VF","T","TF"], "range": ["black","black","red","red"]}, "legend": null},
          "size": {"field": "g", "type": "nominal", "scale": {"domain": ["V","VF","T","TF"], "range": [26,20,28,28]}, "legend": null}}}
       ]},
      {"data": {"values": [{"d": 21, "d2": 44}]}, "mark": {"type": "rule", "color": "black", "strokeWidth": 1.2}, "encoding": {"x2": {"field": "d2"}, "y": {"datum": 2180}}},
      {"data": {"values": [{"d": 21}]}, "mark": {"type": "point", "shape": "triangle-left", "filled": true, "color": "black", "opacity": 1, "size": 30}, "encoding": {"y": {"datum": 2180}}},
      {"data": {"values": [{"d": 44}]}, "mark": {"type": "point", "shape": "triangle-right", "filled": true, "color": "black", "opacity": 1, "size": 30}, "encoding": {"y": {"datum": 2180}}},
      {"data": {"values": [{"lab": "5-FC", "d": 32}]}, "mark": {"type": "text", "fontSize": 9, "fontWeight": "bold"}, "encoding": {"y": {"datum": 2330}, "text": {"field": "lab"}}},
      {"data": {"values": [{"d": 14.2}]}, "mark": {"type": "rule", "color": "black", "strokeWidth": 1.2}, "encoding": {"y": {"datum": -85}, "y2": {"datum": -265}}},
      {"data": {"values": [{"d": 14.2}]}, "mark": {"type": "point", "shape": "triangle-up", "filled": true, "color": "black", "opacity": 1, "size": 30}, "encoding": {"y": {"datum": -95}}}
     ]}
   ], "spacing": 15}
  ], "spacing": 12}
], "spacing": 42
}
